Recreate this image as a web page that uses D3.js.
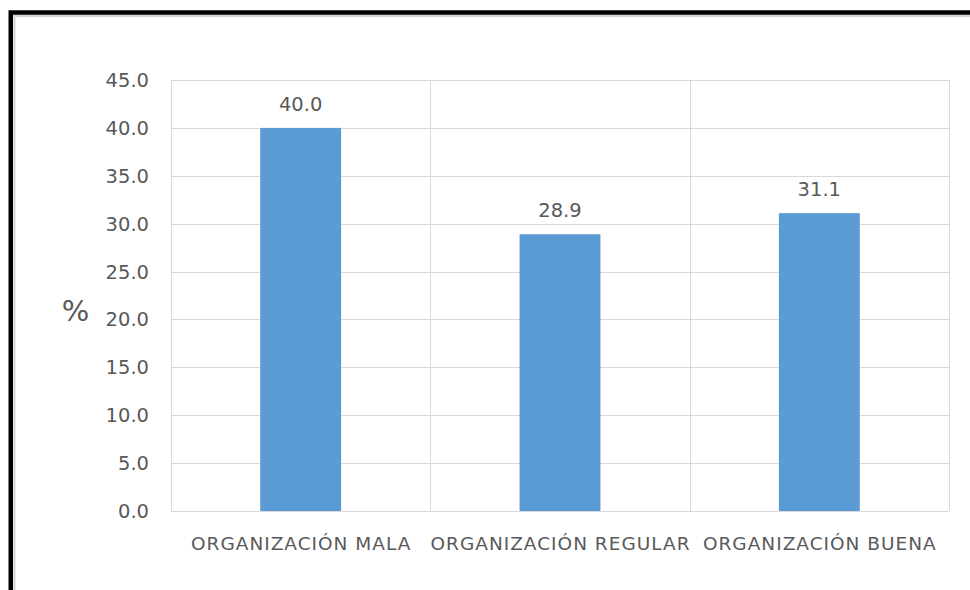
<!DOCTYPE html>
<html>
<head>
<meta charset="utf-8">
<script src="https://cdn.jsdelivr.net/npm/d3@7"></script>
<style>
    body { margin: 0; background: #fff; }
    svg { display: block; }
    .tick-label, .cat-label, .value-label, .y-title { fill: #595959; font-family: "DejaVu Sans", sans-serif; }
</style>
</head>
<body>
<div id="chart"></div>
<script>
// Data
const categories = ['ORGANIZACIÓN MALA', 'ORGANIZACIÓN REGULAR', 'ORGANIZACIÓN BUENA'];
const values = [40.0, 28.9, 31.1];
const yTicks = [0, 5, 10, 15, 20, 25, 30, 35, 40, 45];

const width = 970;
const height = 590;
const margin = { top: 80, right: 21, bottom: 79, left: 171 };
const innerW = width - margin.left - margin.right;
const innerH = height - margin.top - margin.bottom;

const svg = d3.select('#chart')
    .append('svg')
    .attr('width', width)
    .attr('height', height);

svg.append('rect')
    .attr('width', width)
    .attr('height', height)
    .attr('fill', '#fff');

// frame (top + left only, as in the screenshot)
svg.append('path')
    .attr('d', `M14.5,${height} V16 H${width}`)
    .attr('fill', 'none')
    .attr('stroke', '#d4d4d4')
    .attr('stroke-width', 2);
svg.append('path')
    .attr('d', `M10.75,${height} V12.5 H${width}`)
    .attr('fill', 'none')
    .attr('stroke', '#000')
    .attr('stroke-width', 4.5);

const g = svg.append('g')
    .attr('transform', `translate(${margin.left},${margin.top})`);

const x = d3.scaleBand()
    .domain(categories)
    .range([0, innerW])
    .padding(0);

const y = d3.scaleLinear()
    .domain([0, 45])
    .range([innerH, 0]);

// horizontal gridlines
g.append('g')
    .selectAll('line')
    .data(yTicks)
    .enter()
    .append('line')
    .attr('x1', 0)
    .attr('x2', innerW)
    .attr('y1', d => Math.round(y(d)) + 0.5)
    .attr('y2', d => Math.round(y(d)) + 0.5)
    .attr('stroke', '#d9d9d9')
    .attr('stroke-width', 1);

// vertical category separators
const xEdges = categories.map(c => x(c)).concat([innerW]);
g.append('g')
    .selectAll('line')
    .data(xEdges)
    .enter()
    .append('line')
    .attr('x1', d => Math.round(d) + 0.5)
    .attr('x2', d => Math.round(d) + 0.5)
    .attr('y1', 0)
    .attr('y2', innerH)
    .attr('stroke', '#d9d9d9')
    .attr('stroke-width', 1);

// y tick labels
g.append('g')
    .selectAll('text')
    .data(yTicks)
    .enter()
    .append('text')
    .attr('class', 'tick-label')
    .attr('x', -22)
    .attr('y', d => y(d))
    .attr('dy', '0.36em')
    .attr('text-anchor', 'end')
    .style('font-size', '19.5px')
    .text(d => d3.format('.1f')(d));

// y axis title
svg.append('text')
    .attr('class', 'y-title')
    .attr('x', 75.5)
    .attr('y', 311)
    .attr('dy', '0.36em')
    .attr('text-anchor', 'middle')
    .style('font-size', '29px')
    .text('%');

// bars
const barW = x.bandwidth() * 0.312;
g.selectAll('.bar')
    .data(values)
    .enter()
    .append('rect')
    .attr('class', 'bar')
    .attr('x', (d, i) => x(categories[i]) + (x.bandwidth() - barW) / 2)
    .attr('y', d => y(d))
    .attr('width', barW)
    .attr('height', d => innerH - y(d))
    .attr('fill', '#5b9bd5');

// value labels
g.selectAll('.value-label')
    .data(values)
    .enter()
    .append('text')
    .attr('class', 'value-label')
    .attr('x', (d, i) => x(categories[i]) + x.bandwidth() / 2)
    .attr('y', d => y(d) - 17)
    .attr('text-anchor', 'middle')
    .style('font-size', '19.5px')
    .text(d => d3.format('.1f')(d));

// category labels
g.selectAll('.cat-label')
    .data(categories)
    .enter()
    .append('text')
    .attr('class', 'cat-label')
    .attr('x', d => x(d) + x.bandwidth() / 2 + 0.5)
    .attr('y', innerH + 39)
    .attr('text-anchor', 'middle')
    .style('font-size', '18.5px')
    .style('letter-spacing', '1px')
    .text(d => d);
</script>
</body>
</html>
